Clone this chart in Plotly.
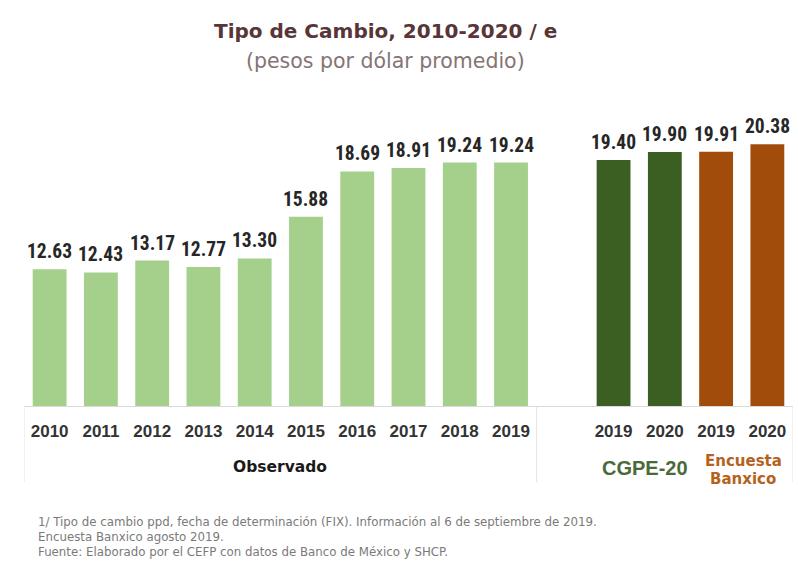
import plotly.graph_objects as go

# ---- data ----
obs_years = ["2010", "2011", "2012", "2013", "2014", "2015", "2016", "2017", "2018", "2019"]
obs_values = [12.63, 12.43, 13.17, 12.77, 13.30, 15.88, 18.69, 18.91, 19.24, 19.24]
cgpe_years = ["2019", "2020"]
cgpe_values = [19.40, 19.90]
banxico_years = ["2019", "2020"]
banxico_values = [19.91, 20.38]

group_labels = ["Observado", "CGPE-20", "Encuesta", "Banxico"]

title_text = "Tipo de Cambio, 2010-2020 / e"
subtitle_text = "(pesos por dólar promedio)"
footnotes = [
    "1/ Tipo de cambio ppd, fecha de determinación (FIX). Información al 6 de septiembre de 2019.",
    "Encuesta Banxico agosto 2019.",
    "Fuente: Elaborado por el CEFP con datos de Banco de México y SHCP.",
]

# ---- positions (slots; one empty slot between groups) ----
obs_x = list(range(len(obs_years)))
cgpe_x = [len(obs_years) + 1 + i for i in range(len(cgpe_years))]
banxico_x = [cgpe_x[-1] + 1 + i for i in range(len(banxico_years))]

C_LIGHT = "#a5d08c"
C_DARK = "#3b5e22"
C_ORANGE = "#a24c0c"

NARROW = "Roboto Condensed, Liberation Sans Narrow, Arial Narrow, sans-serif"
SANS = "Liberation Sans, Arial, sans-serif"
DJV = "DejaVu Sans, Verdana, sans-serif"

W, H = 798, 576
L, R, T, B = 24, 5, 70, 170
pw, ph = W - L - R, H - T - B
BASE = H - B  # pixel y of the baseline


def px(x):
    return (x - L) / pw


def py(y):
    return (BASE - y) / ph


fig = go.Figure()
BW = 0.66
for xs, ys, col in [(obs_x, obs_values, C_LIGHT), (cgpe_x, cgpe_values, C_DARK), (banxico_x, banxico_values, C_ORANGE)]:
    fig.add_trace(go.Bar(x=xs, y=ys, width=BW, marker=dict(color=col, line=dict(width=0)),
                         hoverinfo="x+y", showlegend=False))

annotations = []
# value labels
for xs, ys in [(obs_x, obs_values), (cgpe_x, cgpe_values), (banxico_x, banxico_values)]:
    for x, y in zip(xs, ys):
        annotations.append(dict(x=x, y=y, xref="x", yref="y", text=f"{y:.2f}", showarrow=False,
                                xanchor="center", yanchor="bottom", yshift=4,
                                font=dict(family=NARROW, size=19.5, color="#262626", weight="bold")))

# group labels
annotations.append(dict(x=(obs_x[0] + obs_x[-1]) / 2, y=py(467), xref="x", yref="paper", text=group_labels[0],
                        showarrow=False, xanchor="center", yanchor="middle",
                        font=dict(family=DJV, size=15.5, color="#1a1a1a", weight="bold")))
annotations.append(dict(x=px(645), y=py(468), xref="paper", yref="paper", text=group_labels[1],
                        showarrow=False, xanchor="center", yanchor="middle",
                        font=dict(family=SANS, size=20, color="#4b6a3a", weight="bold")))
annotations.append(dict(x=px(743), y=py(461), xref="paper", yref="paper", text=group_labels[2],
                        showarrow=False, xanchor="center", yanchor="middle",
                        font=dict(family=DJV, size=15, color="#b5621d", weight="bold")))
annotations.append(dict(x=px(743), y=py(479), xref="paper", yref="paper", text=group_labels[3],
                        showarrow=False, xanchor="center", yanchor="middle",
                        font=dict(family=DJV, size=15, color="#b5621d", weight="bold")))

# title / subtitle
annotations.append(dict(x=px(385), y=py(31), xref="paper", yref="paper", text=title_text, showarrow=False,
                        xanchor="center", yanchor="middle",
                        font=dict(family=DJV, size=20, color="#573538", weight="bold")))
annotations.append(dict(x=px(385), y=py(61), xref="paper", yref="paper", text=subtitle_text, showarrow=False,
                        xanchor="center", yanchor="middle",
                        font=dict(family=DJV, size=20.5, color="#857474")))

# footnotes
for i, t in enumerate(footnotes):
    annotations.append(dict(x=px(36), y=py(522 + i * 15), xref="paper", yref="paper", text=t, showarrow=False,
                            xanchor="left", yanchor="middle",
                            font=dict(family=DJV, size=11.8, color="#7a7a7a")))

shapes = []
for xv in [-0.5, len(obs_years) - 0.5, banxico_x[-1] + 0.5]:
    shapes.append(dict(type="line", xref="x", yref="paper", x0=xv, x1=xv, y0=0, y1=py(482),
                       line=dict(color="#e3e3e3", width=1)))

tickvals = obs_x + cgpe_x + banxico_x
ticktext = obs_years + cgpe_years + banxico_years

fig.update_layout(
    width=W, height=H,
    margin=dict(l=L, r=R, t=T, b=B),
    paper_bgcolor="white", plot_bgcolor="white",
    barmode="overlay",
    xaxis=dict(range=[-0.5, banxico_x[-1] + 0.5], tickvals=tickvals, ticktext=ticktext,
               tickfont=dict(family=SANS, size=17, color="#333333", weight="bold"),
               ticks="outside", ticklen=10, tickcolor="rgba(0,0,0,0)",
               showline=True, linecolor="#d9d9d9", linewidth=1, showgrid=False, zeroline=False,
               fixedrange=True),
    yaxis=dict(range=[4.15, 4.15 + ph / 16.13], visible=False, showgrid=False, fixedrange=True),
    annotations=annotations,
    shapes=shapes,
)

fig.write_html("out.html", config={"displayModeBar": False},
               post_script="document.body.style.margin='0';")
